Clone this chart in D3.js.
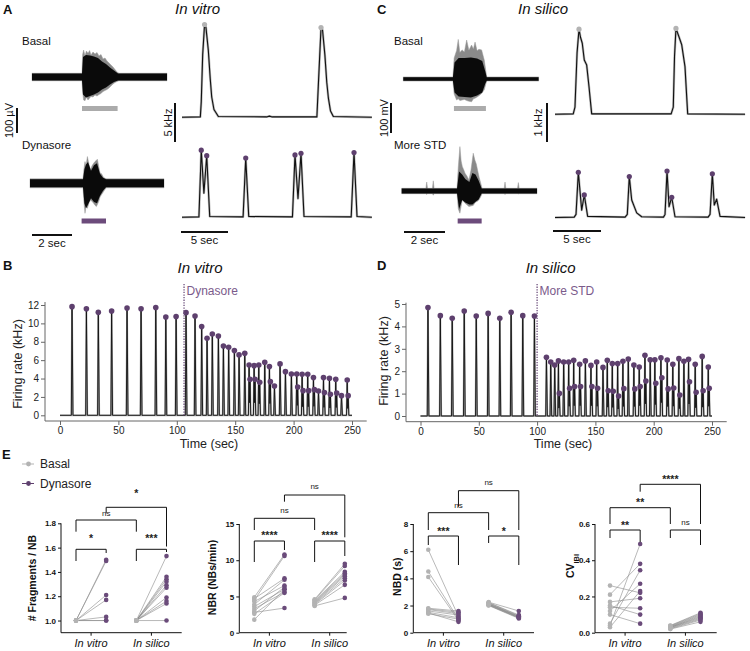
<!DOCTYPE html>
<html>
<head>
<meta charset="utf-8">
<script src="https://cdn.jsdelivr.net/npm/d3@7"></script>
<style>
  body { margin: 0; background: #fff; }
  svg text { font-family: "Liberation Sans", Arial, sans-serif; }
</style>
</head>
<body>
<svg id="fig" width="750" height="651"></svg>
<script>

// ---------------- data ----------------

// raw traces: [time s, upper envelope, lower envelope]  (outer spikes)
var rawVitroBasal = [[0,15,15],[2.5,15,15],[2.53,90,60],[2.58,108,92],[2.65,85,95],[2.72,104,80],[2.8,95,92],[2.88,106,84],
  [2.95,88,78],[3.05,100,80],[3.15,92,72],[3.25,98,76],[3.35,84,70],[3.45,90,66],[3.55,72,58],[3.65,76,54],[3.75,64,50],
  [3.85,56,44],[3.95,48,36],[4.05,40,28],[4.15,30,22],[4.25,20,18],[4.35,15,15],[6.75,15,15]];
var rawVitroDyn = [[0,18,18],[2.65,18,18],[2.7,60,80],[2.75,87,120],[2.8,70,95],[2.87,107,100],[2.95,75,78],[3.03,55,67],
  [3.1,70,72],[3.18,80,80],[3.25,87,88],[3.32,92,93],[3.37,96,85],[3.45,62,70],[3.5,42,55],[3.58,38,45],[3.67,24,34],
  [3.75,20,24],[3.83,18,18],[6.7,18,18]];
var rawSilicoBasal = [[0,7,7],[2.42,7,7],[2.48,70,50],[2.6,95,70],[2.68,132,66],[2.76,88,72],[2.87,97,70],[2.98,90,68],
  [3.09,130,72],[3.2,96,74],[3.33,113,76],[3.42,100,66],[3.5,123,64],[3.6,94,60],[3.69,99,56],[3.82,97,48],[3.95,63,36],
  [4.02,30,18],[4.07,7,7],[6.6,7,7]];
var rawSilicoStd = [[0,9,9],[1.18,9,9],[1.22,30,12],[1.26,9,9],[1.5,9,9],[1.54,34,14],[1.58,9,9],[2.7,9,9],[2.76,80,60],
  [2.84,148,74],[2.9,100,50],[2.96,81,30],[3.03,70,36],[3.09,59,41],[3.18,50,46],[3.28,37,52],[3.38,70,50],[3.49,126,48],
  [3.57,103,40],[3.64,90,36],[3.7,70,34],[3.78,45,28],[3.86,25,18],[3.92,9,9],[5.0,9,9],[5.04,30,12],[5.08,9,9],
  [5.65,9,9],[5.69,28,10],[5.73,9,9],[6.6,9,9]];

// dense (black) core of the raw traces: [time s, upper, lower]
var coreVitroBasal = [[0,14,14],[2.5,14,14],[2.55,80,70],[2.7,88,82],[2.9,86,76],[3.1,82,70],[3.3,76,62],[3.5,62,50],
  [3.7,52,42],[3.9,38,30],[4.1,26,20],[4.3,14,14],[6.75,14,14]];
var coreVitroDyn = [[0,16,16],[2.65,16,16],[2.72,55,80],[2.8,75,100],[2.9,85,85],[3.05,50,60],[3.2,72,75],[3.35,80,80],
  [3.5,38,50],[3.65,22,30],[3.8,16,16],[6.7,16,16]];
var coreSilicoBasal = [[0,6,6],[2.42,6,6],[2.5,55,45],[2.7,70,58],[3.0,70,60],[3.3,72,62],[3.6,68,55],[3.85,60,45],
  [4.0,25,15],[4.07,6,6],[6.6,6,6]];
var coreSilicoStd = [[0,8,8],[2.7,8,8],[2.8,65,60],[2.95,55,30],[3.1,40,38],[3.3,30,45],[3.45,60,45],[3.6,55,36],
  [3.75,35,28],[3.9,8,8],[6.6,8,8]];

// burst windows (s) under the raw traces
var vitroBasalBar = [2.5, 4.28], vitroDynBar = [2.58, 3.8];
var silicoBasalBar = [2.47, 4.03], silicoStdBar = [2.73, 3.9];

// firing-rate traces: [time s, kHz]
var rateVitroBasal = [[0,0],[1.95,0.05],[2.05,2],[2.2,8],[2.4,11.9],[2.55,11.5],[2.8,8.6],[3.0,5],[3.16,2.6],[3.4,1.0],
  [3.87,0.1],[9,0.05],[9.3,0.15],[9.6,0.05],[14.35,0.05],[14.5,4],[14.79,11.5],[14.95,11.2],[15.2,8],[15.4,4.5],
  [15.57,2.5],[15.8,0.8],[16.1,0.1],[20.2,0]];
var peaksVitroBasal = [[2.4,11.9],[14.79,11.5]];
var rateVitroDyn = [[0,0],[1.8,0.05],[2.05,8.6],[2.33,3.1],[2.63,7.9],[2.95,0.1],[6.5,0.05],[6.78,7.6],[7.1,0.1],
  [11.75,0.05],[12.02,8.0],[12.34,2.4],[12.66,8.2],[12.98,0.1],[18.0,0.05],[18.3,8.3],[18.62,0.1],[20.2,0]];
var peaksVitroDyn = [[2.05,8.6],[2.63,7.9],[6.78,7.6],[12.02,8.0],[12.66,8.2],[18.3,8.3]];
var rateSilicoBasal = [[0,0.02],[1.9,0.03],[2.08,0.2],[2.3,1.6],[2.5,2.2],[2.65,2.0],[2.84,1.84],[3.05,1.41],[3.3,1.28],
  [3.54,0.73],[3.82,0.03],[12.1,0.03],[12.32,0.2],[12.45,1.5],[12.6,2.22],[12.92,2.0],[13.2,1.8],[13.54,1.24],
  [13.82,0.03],[19.8,0.02]];
var peaksSilicoBasal = [[2.5,2.2],[12.6,2.22]];
var rateSilicoStd = [[0,0.02],[2.0,0.03],[2.19,0.1],[2.43,1.18],[2.78,0.21],[3.05,0.6],[3.4,0.05],[7.3,0.03],[7.53,0.1],
  [7.74,1.07],[7.99,0.47],[8.51,0.14],[9.03,0.04],[11.3,0.03],[11.46,0.1],[11.67,1.21],[11.88,0.3],[12.16,0.54],
  [12.5,0.04],[15.95,0.03],[16.15,0.1],[16.39,1.14],[16.59,0.34],[16.84,0.49],[17.19,0.05],[19.8,0.02]];
var peaksSilicoStd = [[2.43,1.18],[3.05,0.6],[7.74,1.07],[11.67,1.21],[12.16,0.54],[16.39,1.14]];

// panel B: burst times, peak rate, second fragment peak
var vitroT = [10.3,22.6,32.8,44.2,57.4,69.4,82.0,90.6,99.4,107.9,115.6,121.3,125.9,130.4,135.6,139.9,144.4,149.3,153.3,
  158.2,161.9,166.2,170.2,175.3,179.3,183.6,188.4,193.0,198.1,202.7,207.3,212.1,217.0,221.3,225.6,230.7,236.1,241.0,245.9];
var vitroHz = [11.82,11.6,11.2,11.35,11.68,11.6,11.72,10.7,10.74,11.17,10.8,9.65,8.38,8.85,8.63,7.54,7.4,7.04,6.57,
  6.75,5.48,5.4,5.48,5.77,5.3,3.19,5.59,4.75,4.5,4.5,4.46,4.46,4.1,2.65,4.1,4.03,3.92,2.14,3.84];
var vitroFragHz = [null,null,null,null,null,null,null,null,null,null,null,null,null,null,null,null,null,null,null,
  null,3.92,3.92,3.59,null,3.66,null,null,null,null,3.08,2.68,2.68,2.79,null,2.47,2.29,2.43,null,2.14];
var dynasoreStart = 106.2;

// panel D
var silicoT = [6.4,17.0,27.2,37.5,47.8,58.0,68.0,77.7,87.7,97.7,108.0,111.7,115.1,118.3,122.8,127.1,131.4,136.5,141.4,
  146.2,151.1,156.5,160.2,164.5,169.1,173.6,178.2,183.0,187.6,192.5,197.0,201.0,206.2,211.6,216.4,221.6,225.9,229.9,
  235.6,241.6,246.8];
var silicoHz = [4.84,4.48,4.36,4.69,4.46,4.58,4.36,4.63,4.48,4.46,2.62,2.41,2.28,2.46,2.41,2.41,2.49,2.31,2.46,2.26,
  2.41,2.17,2.49,2.34,2.34,2.44,2.54,2.28,2.19,2.71,2.51,2.51,2.6,2.5,2.31,2.56,2.44,2.53,2.31,2.66,2.19];
var silicoFragHz = [null,null,null,null,null,null,null,null,null,null,null,null,null,1.01,null,1.24,1.32,1.32,null,1.32,
  1.24,null,1.13,1.1,0.89,1.22,null,1.21,1.32,1.56,null,1.46,1.71,1.21,1.25,0.94,null,1.53,1.06,1.13,1.24];
var moreStdStart = 100;

// panel E (pairs basal -> treated)
var fragVitroBasal = [1,1,1,1,1,1,1];
var fragVitroDyn = [1.5,1.49,1.21,1.17,1.03,1.0,1.0];
var fragSilicoBasal = [1,1,1,1,1,1,1,1,1,1];
var fragSilicoDyn = [1.53,1.36,1.34,1.32,1.29,1.27,1.19,1.16,1.14,1.0];
var nbrVitroBasal = [4.9,4.7,4.5,4.3,3.9,3.6,3.3,3.0,2.8,2.6,1.8];
var nbrVitroDyn = [10.8,7.5,10.6,6.5,7.3,6.0,5.6,6.3,3.4,5.5,6.0];
var nbrSilicoBasal = [4.6,4.5,4.4,4.3,4.2,4.1,4.0,3.9,3.8,3.7];
var nbrSilicoDyn = [9.5,9.2,8.4,8.2,8.0,7.8,7.5,7.2,6.6,4.8];
var nbdVitroBasal = [6.1,4.5,4.1,1.8,1.75,1.7,1.6,1.5,1.45,1.4];
var nbdVitroDyn = [1.2,1.0,0.9,1.6,1.5,1.4,1.3,1.1,0.8,1.0];
var nbdSilicoBasal = [2.25,2.22,2.2,2.15,2.12,2.1,2.08,2.05,2.02,2.0];
var nbdSilicoDyn = [1.6,1.3,1.25,1.2,1.2,1.15,1.15,1.1,1.1,1.05];
var cvVitroBasal = [0.26,0.21,0.17,0.15,0.14,0.12,0.10,0.05,0.04,0.03];
var cvVitroDyn = [0.22,0.38,0.19,0.10,0.135,0.27,0.05,0.345,0.49,0.23];
var cvSilicoBasal = [0.04,0.038,0.035,0.033,0.03,0.03,0.028,0.025,0.022,0.02];
var cvSilicoDyn = [0.11,0.105,0.1,0.095,0.09,0.085,0.08,0.075,0.07,0.06];

// significance labels: vitro pair, silico pair, basal vs basal, treated vs treated
var fragSig = ["*","***","ns","*"];
var nbrSig = ["****","****","ns","ns"];
var nbdSig = ["***","*","ns","ns"];
var cvSig = ["**","ns","**","****"];
var groupNames = ["In vitro","In silico"];

// ---------------- drawing ----------------
var purple = "#5e406e", purpleBar = "#6c4b7b", purpleText = "#7b5b8b", grey = "#b3b3b3";
var svg = d3.select("#fig");

function label(x, y, s, size, opts) {
  opts = opts || {};
  var t = svg.append("text").attr("x", x).attr("y", y).text(s)
    .style("font-size", size + "px")
    .attr("fill", opts.fill || "#111")
    .attr("text-anchor", opts.anchor || "start");
  if (opts.bold) t.style("font-weight", "bold");
  if (opts.italic) t.style("font-style", "italic");
  if (opts.rotate) t.attr("transform", "rotate(-90," + x + "," + y + ")");
  return t;
}

// panel letters and titles
label(3, 13.5, "A", 13, {bold: true});
label(377, 13.5, "C", 13, {bold: true});
label(3, 269.5, "B", 13, {bold: true});
label(377, 269.5, "D", 13, {bold: true});
label(2, 459, "E", 13, {bold: true});
label(197.5, 14, "In vitro", 15, {italic: true, anchor: "middle"});
label(543, 14, "In silico", 15, {italic: true, anchor: "middle"});

function drawRaw(env, core, x0, base, pxSec, pxUnit, bar, barY, barColor) {
  var x = d3.scaleLinear().domain([0, 1]).range([x0, x0 + pxSec]);
  var y = d3.scaleLinear().domain([0, 1]).range([base, base - pxUnit]);
  var area = d3.area().x(function(d) { return x(d[0]); })
    .y0(function(d) { return y(-d[2]); }).y1(function(d) { return y(d[1]); });
  svg.append("path").datum(env).attr("d", area)
    .attr("fill", "#8a8a8a").attr("stroke", "#9a9a9a").attr("stroke-width", 0.5);
  svg.append("path").datum(core).attr("d", area).attr("fill", "#0a0a0a");
  svg.append("rect").attr("x", x(bar[0])).attr("y", barY)
    .attr("width", x(bar[1]) - x(bar[0])).attr("height", 5).attr("fill", barColor);
  return {x: x, y: y};
}

function drawRate(pts, peaks, x0, base, pxSec, pxUnit, dotColor) {
  var x = d3.scaleLinear().domain([0, 1]).range([x0, x0 + pxSec]);
  var y = d3.scaleLinear().domain([0, 1]).range([base, base - pxUnit]);
  var line = d3.line().x(function(d) { return x(d[0]); }).y(function(d) { return y(d[1]); });
  svg.append("path").datum(pts).attr("d", line).attr("fill", "none")
    .attr("stroke", "#bbb").attr("stroke-width", 2.4).attr("stroke-linejoin", "round");
  svg.append("path").datum(pts).attr("d", line).attr("fill", "none")
    .attr("stroke", "#111").attr("stroke-width", 1.1).attr("stroke-linejoin", "round");
  svg.selectAll(null).data(peaks).enter().append("circle")
    .attr("cx", function(d) { return x(d[0]); }).attr("cy", function(d) { return y(d[1]); })
    .attr("r", 2.6).attr("fill", dotColor);
  return {x: x, y: y};
}

function vBar(x, yTop, len, txt, lx, size) {
  svg.append("line").attr("x1", x).attr("x2", x).attr("y1", yTop).attr("y2", yTop + len)
    .attr("stroke", "#111").attr("stroke-width", 2);
  label(lx, yTop + len / 2, txt, size, {anchor: "middle", rotate: true});
}
function hBar(x, y, len, txt) {
  svg.append("line").attr("x1", x).attr("x2", x + len).attr("y1", y).attr("y2", y)
    .attr("stroke", "#111").attr("stroke-width", 2);
  label(x + len / 2, y + 12, txt, 11.5, {anchor: "middle"});
}

// ---- panel A ----
label(22, 45, "Basal", 11.5);
label(22, 148.5, "Dynasore", 11.5);
var rA = drawRaw(rawVitroBasal, coreVitroBasal, 32, 77, 20, 0.25, vitroBasalBar, 106, "#ababab");
drawRaw(rawVitroDyn, coreVitroDyn, 30, 183.3, 20, 0.25, vitroDynBar, 218.5, purpleBar);
vBar(17, 108, rA.y(0) - rA.y(100), "100 µV", 12.5, 11);
hBar(32, 235, rA.x(2) - rA.x(0), "2 sec");
var qA = drawRate(rateVitroBasal, peaksVitroBasal, 182, 117.3, 9.4, 7.8, grey);
drawRate(rateVitroDyn, peaksVitroDyn, 182, 217.3, 9.4, 7.8, purple);
vBar(175, 103, qA.y(0) - qA.y(5), "5 kHz", 171.5, 11);
hBar(181, 232, qA.x(5) - qA.x(0), "5 sec");

// ---- panel C ----
label(394, 45, "Basal", 11.5);
label(394, 148.5, "More STD", 11.5);
var rC = drawRaw(rawSilicoBasal, coreSilicoBasal, 403.3, 79, 20.5, 0.3, silicoBasalBar, 106, "#ababab");
drawRaw(rawSilicoStd, coreSilicoStd, 401.7, 191, 20.5, 0.3, silicoStdBar, 218.5, purpleBar);
vBar(391, 103, rC.y(0) - rC.y(100), "100 mV", 387.5, 11);
hBar(404, 232, rC.x(2) - rC.x(0), "2 sec");
var qC = drawRate(rateSilicoBasal, peaksSilicoBasal, 555, 115, 9.6, 39, grey);
drawRate(rateSilicoStd, peaksSilicoStd, 555, 218.3, 9.6, 39, purple);
vBar(547, 103, qC.y(0) - qC.y(1), "1 kHz", 542, 11);
hBar(553, 231, qC.x(5) - qC.x(0), "5 sec");

// ---- panels B and D ----
function burstTrace(T, H, F) {
  var pts = [[0, 0]];
  T.forEach(function(t, i) {
    pts.push([t - 0.6, 0], [t, H[i]]);
    if (F[i] != null) pts.push([t + 0.4, F[i] * 0.35], [t + 0.8, F[i]], [t + 1.4, 0]);
    else pts.push([t + 0.8, 0]);
  });
  pts.push([250, 0]);
  return pts;
}

function drawTimeline(o) {
  var x = d3.scaleLinear().domain([0, 250]).range(o.xr);
  var y = d3.scaleLinear().domain([0, o.ymax]).range(o.yr);
  var gx = svg.append("g").attr("transform", "translate(0," + o.axisY + ")")
    .call(d3.axisBottom(x).tickValues([0, 50, 100, 150, 200, 250]).tickSize(4).tickPadding(2));
  var gy = svg.append("g").attr("transform", "translate(" + o.axisX + ",0)")
    .call(d3.axisLeft(y).tickValues(d3.range(0, o.ymax + 1, o.step)).tickFormat(d3.format("d"))
      .tickSize(4).tickPadding(2));
  [gx, gy].forEach(function(g) {
    g.select(".domain").remove();
    g.selectAll("line").attr("stroke", "#666");
    g.selectAll("text").attr("fill", "#222").style("font-size", "10px")
      .style("font-family", "'Liberation Sans', Arial, sans-serif");
  });
  svg.append("line").attr("x1", o.axisX).attr("x2", o.xEnd).attr("y1", o.axisY).attr("y2", o.axisY)
    .attr("stroke", "#666");
  svg.append("line").attr("x1", o.axisX).attr("x2", o.axisX).attr("y1", o.yTop).attr("y2", o.axisY)
    .attr("stroke", "#666");

  var pts = burstTrace(o.T, o.H, o.F);
  var line = d3.line().x(function(d) { return x(d[0]); }).y(function(d) { return y(d[1]); });
  svg.append("path").datum(pts).attr("d", line).attr("fill", "none")
    .attr("stroke", "#aaa").attr("stroke-width", 1.8);
  svg.append("path").datum(pts).attr("d", line).attr("fill", "none")
    .attr("stroke", "#111").attr("stroke-width", 0.9);

  var dots = [];
  o.T.forEach(function(t, i) {
    dots.push([t, o.H[i]]);
    if (o.F[i] != null) dots.push([t + 0.8, o.F[i]]);
  });
  svg.selectAll(null).data(dots).enter().append("circle")
    .attr("cx", function(d) { return x(d[0]); }).attr("cy", function(d) { return y(d[1]); })
    .attr("r", 2.8).attr("fill", purple);

  svg.append("line").attr("x1", x(o.start)).attr("x2", x(o.start)).attr("y1", 284).attr("y2", y(0))
    .attr("stroke", "#6d4f7c").attr("stroke-width", 1.3).attr("stroke-dasharray", "1.3,1.3");
  label(x(o.start) + 2.5, 295, o.startLabel, 12, {fill: purpleText});
  label(o.titleX, 273, o.title, 15, {italic: true, anchor: "middle"});
  label(o.ylabX, o.ylabY, "Firing rate (kHz)", 12.5, {anchor: "middle", rotate: true, fill: "#222"});
  label(o.xlabX, 448, "Time (sec)", 12.5, {anchor: "middle", fill: "#222"});
}

drawTimeline({xr: [60, 352], yr: [415.3, 305], ymax: 12, step: 2, axisX: 45, axisY: 421, xEnd: 366.7, yTop: 302,
  T: vitroT, H: vitroHz, F: vitroFragHz, start: dynasoreStart, startLabel: "Dynasore",
  title: "In vitro", titleX: 200, ylabX: 22, ylabY: 364, xlabX: 209});
drawTimeline({xr: [420.5, 712], yr: [416, 304], ymax: 5, step: 1, axisX: 406, axisY: 421.7, xEnd: 726.7, yTop: 302.7,
  T: silicoT, H: silicoHz, F: silicoFragHz, start: moreStdStart, startLabel: "More STD",
  title: "In silico", titleX: 550.7, ylabX: 388, ylabY: 361, xlabX: 563});

// ---- panel E ----
// legend
[[464, grey, "Basal"], [483.5, purple, "Dynasore"]].forEach(function(l) {
  svg.append("line").attr("x1", 22).attr("x2", 34).attr("y1", l[0]).attr("y2", l[0])
    .attr("stroke", l[1]).attr("stroke-width", 1);
  svg.append("circle").attr("cx", 28.5).attr("cy", l[0]).attr("r", 2.4).attr("fill", l[1]);
  label(40, l[0] + 4.2, l[2], 12, {fill: "#222"});
});

function drawStat(o) {
  var y = d3.scaleLinear().domain(o.domain).range([632.7, o.topPx]);
  var x = d3.scaleLinear().domain([0, 3]).range([o.ax + 15, o.ax + 105.5]);
  var g = svg.append("g").attr("transform", "translate(" + o.ax + ",0)")
    .call(d3.axisLeft(y).tickValues(o.ticks).tickFormat(d3.format(o.fmt)).tickSize(3).tickPadding(2));
  g.select(".domain").remove();
  g.selectAll("line").attr("stroke", "#111");
  g.selectAll("text").attr("fill", "#111").style("font-size", "8px").style("font-weight", "bold")
    .style("font-family", "'Liberation Sans', Arial, sans-serif");
  svg.append("line").attr("x1", o.ax).attr("x2", o.ax).attr("y1", y(o.ticks[o.ticks.length - 1])).attr("y2", 632.7)
    .attr("stroke", "#111");
  svg.append("line").attr("x1", o.ax).attr("x2", o.ax + o.len).attr("y1", 632.7).attr("y2", 632.7)
    .attr("stroke", "#111");
  [0.5, 2.5].forEach(function(c, i) {
    svg.append("line").attr("x1", x(c)).attr("x2", x(c)).attr("y1", 632.7).attr("y2", 635.7).attr("stroke", "#111");
    label(x(c), 646.5, groupNames[i], 11, {italic: true, anchor: "middle"});
  });

  // paired lines and points
  var groups = [[o.vb, o.vd, 0], [o.sb, o.sd, 2]];
  groups.forEach(function(gp) {
    gp[0].forEach(function(v, i) {
      svg.append("line").attr("x1", x(gp[2])).attr("x2", x(gp[2] + 1))
        .attr("y1", y(v)).attr("y2", y(gp[1][i])).attr("stroke", "#8a8a8a").attr("stroke-width", 0.6);
    });
  });
  groups.forEach(function(gp) {
    svg.selectAll(null).data(gp[0]).enter().append("circle")
      .attr("cx", x(gp[2])).attr("cy", function(d) { return y(d); }).attr("r", 2.3).attr("fill", grey);
    svg.selectAll(null).data(gp[1]).enter().append("circle")
      .attr("cx", x(gp[2] + 1)).attr("cy", function(d) { return y(d); }).attr("r", 2.3).attr("fill", "#6a4b7a");
  });

  // brackets
  var pairs = [[0, 1], [2, 3], [0, 2], [1, 3]];
  o.br.forEach(function(b, i) {
    var x1 = x(pairs[i][0]), x2 = x(pairs[i][1]);
    svg.append("path").attr("d", "M" + x1 + "," + b[1] + "V" + b[0] + "H" + x2 + "V" + b[2])
      .attr("fill", "none").attr("stroke", "#111").attr("stroke-width", 1);
    var s = o.sig[i], ns = s === "ns";
    var fs = ns ? 8 : 10.5;
    var cy = b[0] - b[3];
    label((x1 + x2) / 2, cy + (ns ? 0.26 : 0.58) * fs, s, fs, {anchor: "middle", bold: !ns, fill: "#222"});
  });

  var yl = label(o.ylx, o.yly, "", 10.5, {anchor: "middle", bold: true, rotate: true}).attr("dy", "0.35em");
  if (o.sub) {
    yl.append("tspan").text(o.ylab);
    yl.append("tspan").text(o.sub).attr("baseline-shift", "sub").style("font-size", "7.5px");
  } else yl.text(o.ylab);
}

// brackets: [bar y, left leg end, right leg end, label gap]
drawStat({ax: 61, len: 120.7, domain: [0.9, 1.8], topPx: 523.3, ticks: [1.0, 1.2, 1.4, 1.6, 1.8], fmt: ".1f",
  vb: fragVitroBasal, vd: fragVitroDyn, sb: fragSilicoBasal, sd: fragSilicoDyn, sig: fragSig,
  br: [[549.3, 561, 553, 13], [549.3, 561, 552, 13], [520, 531.7, 531.7, 6], [507.3, 513.3, 546.5, 16.5]],
  ylab: "# Fragments / NB", ylx: 32, yly: 578});
drawStat({ax: 239.3, len: 107.4, domain: [0, 15], topPx: 524, ticks: [0, 5, 10, 15], fmt: "d",
  vb: nbrVitroBasal, vd: nbrVitroDyn, sb: nbrSilicoBasal, sd: nbrSilicoDyn, sig: nbrSig,
  br: [[541, 562, 550, 7.7], [541, 562, 556, 7.7], [518.3, 530, 530, 7.6], [495, 501.7, 537.3, 7.7]],
  ylab: "NBR (NBs/min)", ylx: 212, yly: 577.5});
drawStat({ax: 413.3, len: 120.7, domain: [0, 8], topPx: 524, ticks: [0, 2, 4, 6, 8], fmt: "d",
  vb: nbdVitroBasal, vd: nbdVitroDyn, sb: nbdSilicoBasal, sd: nbdSilicoDyn, sig: nbdSig,
  br: [[536, 545, 565, 6.7], [536, 543, 565, 6.7], [512.7, 530, 530, 6.7], [490.7, 506.7, 530, 7.4]],
  ylab: "NBD (s)", ylx: 397.5, yly: 576.7});
drawStat({ax: 595, len: 121.7, domain: [0, 0.6], topPx: 524, ticks: [0, 0.2, 0.4, 0.6], fmt: ".1f",
  vb: cvVitroBasal, vd: cvVitroDyn, sb: cvSilicoBasal, sd: cvSilicoDyn, sig: cvSig,
  br: [[530, 538, 542, 7.3], [530, 538, 545, 7.3], [507.7, 524, 524, 7.7], [484.3, 491.7, 524, 7.6]],
  ylab: "CV", sub: "IBI", ylx: 570, yly: 566});

</script>
</body>
</html>
